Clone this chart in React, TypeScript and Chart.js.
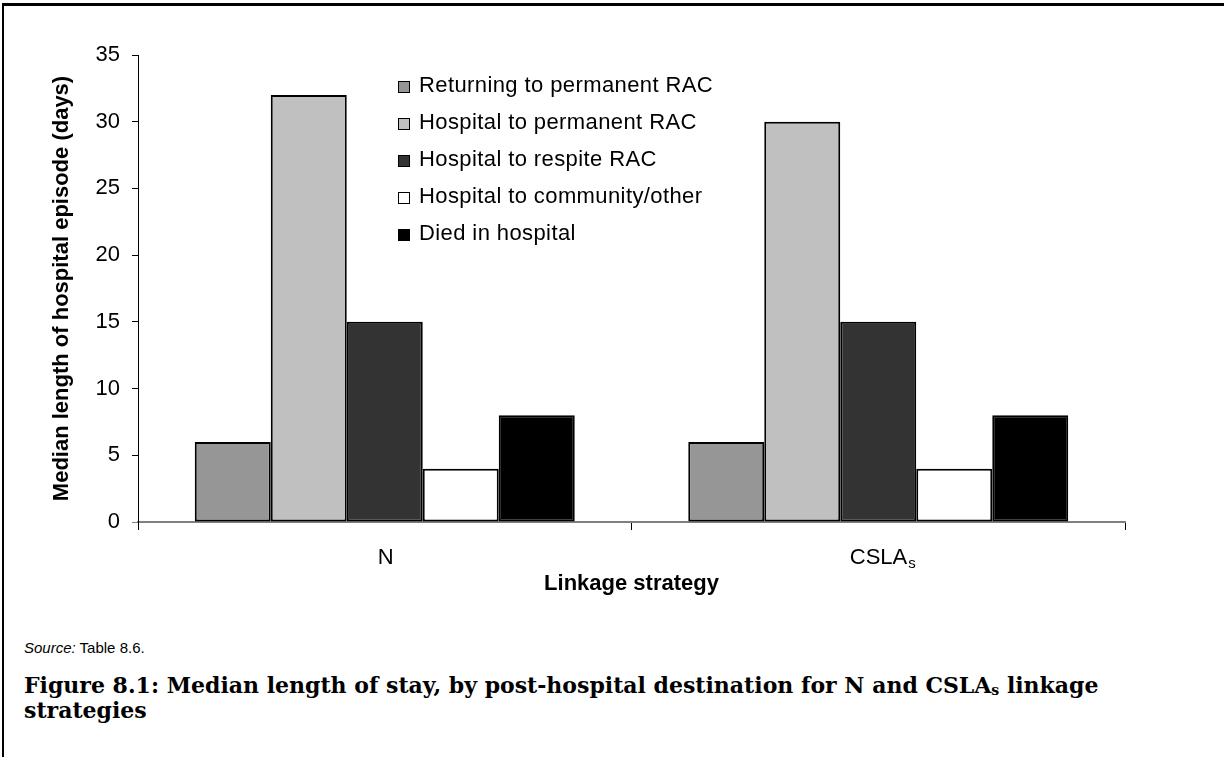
import React, { useEffect, useRef } from "react";
import { Chart, registerables } from "chart.js";

Chart.register(...registerables);

// ---- data ----
const categories = ["N", "CSLA_s"];
const seriesLabels = [
  "Returning to permanent RAC",
  "Hospital to permanent RAC",
  "Hospital to respite RAC",
  "Hospital to community/other",
  "Died in hospital",
];
const returningToPermanentRAC = [6, 6];
const hospitalToPermanentRAC = [32, 30];
const hospitalToRespiteRAC = [15, 15];
const hospitalToCommunityOther = [4, 4];
const diedInHospital = [8, 8];
const seriesColors = ["#969696", "#c0c0c0", "#333333", "#ffffff", "#000000"];
const yTickValues = [0, 5, 10, 15, 20, 25, 30, 35];
const yAxisTitle = "Median length of hospital episode (days)";
const xAxisTitle = "Linkage strategy";

const FONT = "'Liberation Sans', Arial, sans-serif";

const legendPlugin = {
  id: "insideLegend",
  afterDatasetsDraw(chart: any) {
    const ctx = chart.ctx;
    const x0 = 398;
    const y0 = 86;
    const step = 37;
    const box = 12;
    ctx.save();
    ctx.font = `22px ${FONT}`;
    ctx.textBaseline = "middle";
    ctx.textAlign = "left";
    try {
      (ctx as any).letterSpacing = "0.4px";
    } catch (e) {}
    chart.data.datasets.forEach((ds: any, i: number) => {
      const y = y0 + i * step;
      ctx.fillStyle = ds.backgroundColor;
      ctx.fillRect(x0, y - box / 2 + 1, box, box);
      ctx.strokeStyle = "#000";
      ctx.lineWidth = 1;
      ctx.strokeRect(x0 + 0.5, y - box / 2 + 1.5, box - 1, box - 1);
      ctx.fillStyle = "#000";
      ctx.fillText(ds.label, x0 + 21, y);
    });
    ctx.restore();
  },
};

const xLabelPlugin = {
  id: "xLabels",
  afterDraw(chart: any) {
    const scale = chart.scales.x;
    const ctx = chart.ctx;
    ctx.save();
    ctx.fillStyle = "#000";
    ctx.textBaseline = "alphabetic";
    ctx.textAlign = "left";
    const baseY = scale.top + 42;
    chart.data.labels.forEach((lab: string, i: number) => {
      const [main, sub] = String(lab).split("_");
      ctx.font = `22px ${FONT}`;
      const wMain = ctx.measureText(main).width;
      ctx.font = `15px ${FONT}`;
      const wSub = sub ? ctx.measureText(sub).width : 0;
      const cx = scale.getPixelForTick(i);
      const start = cx - (wMain + wSub) / 2 + (sub ? 4 : 1);
      ctx.font = `22px ${FONT}`;
      ctx.fillText(main, start, baseY);
      if (sub) {
        ctx.font = `15px ${FONT}`;
        ctx.fillText(sub, start + wMain + 1, baseY + 4);
      }
    });
    ctx.restore();
  },
};

export default function App() {
  const canvasRef = useRef<HTMLCanvasElement | null>(null);

  useEffect(() => {
    if (!canvasRef.current) return;
    const seriesValues = [
      returningToPermanentRAC,
      hospitalToPermanentRAC,
      hospitalToRespiteRAC,
      hospitalToCommunityOther,
      diedInHospital,
    ];
    const chart = new Chart(canvasRef.current, {
      type: "bar",
      data: {
        labels: categories,
        datasets: seriesValues.map((vals, i) => ({
          label: seriesLabels[i],
          data: vals,
          backgroundColor: seriesColors[i],
          borderColor: "#000000",
          borderWidth: 2,
          borderSkipped: false,
          categoryPercentage: 0.77,
          barPercentage: 1.0,
        })),
      },
      options: {
        responsive: false,
        animation: false,
        layout: { padding: { left: 0, top: 55, right: 99, bottom: 0 } },
        plugins: {
          legend: { display: false },
          tooltip: { enabled: false },
        },
        scales: {
          x: {
            offset: true,
            ticks: { display: false },
            grid: {
              offset: true,
              drawOnChartArea: false,
              drawTicks: true,
              tickLength: 8,
              color: "#000000",
              lineWidth: 1,
            },
            border: { display: true, color: "#808080", width: 2 },
            title: {
              display: true,
              text: xAxisTitle,
              color: "#000",
              font: { family: FONT, size: 22, weight: "bold" },
              padding: { top: 0, bottom: 18 },
            },
            afterFit: (scale: any) => {
              scale.height = 93;
            },
          },
          y: {
            min: 0,
            max: 35,
            afterBuildTicks: (scale: any) => {
              scale.ticks = yTickValues.map((v) => ({ value: v }));
            },
            ticks: {
              color: "#000",
              padding: 12,
              font: { family: FONT, size: 22 },
            },
            grid: {
              drawOnChartArea: false,
              drawTicks: true,
              tickLength: 6,
              color: (c: any) => (c.tick && c.tick.value === 0 ? "#808080" : "#000000"),
              lineWidth: 1,
            },
            border: { display: true, color: "#000000", width: 1 },
            title: {
              display: true,
              text: yAxisTitle,
              color: "#000",
              font: { family: FONT, size: 22, weight: "bold" },
              padding: { top: 49, bottom: 0 },
            },
            afterFit: (scale: any) => {
              scale.width = 138;
            },
          },
        },
      },
      plugins: [legendPlugin, xLabelPlugin],
    } as any);
    return () => chart.destroy();
  }, []);

  return (
    <div
      style={{
        position: "absolute",
        left: 0,
        top: 0,
        width: 1224,
        height: 757,
        background: "#fff",
        overflow: "hidden",
      }}
    >
      <div
        style={{
          position: "absolute",
          left: 2,
          top: 3,
          right: 0,
          bottom: 0,
          borderTop: "3px solid #000",
          borderLeft: "2px solid #000",
        }}
      />
      <canvas
        ref={canvasRef}
        width={1224}
        height={615}
        style={{ position: "absolute", left: 0, top: 0, width: 1224, height: 615 }}
      />
      <div
        style={{
          position: "absolute",
          left: 24,
          top: 639,
          fontFamily: FONT,
          fontSize: 15,
          color: "#000",
          whiteSpace: "nowrap",
        }}
      >
        <i>Source:</i> Table 8.6.
      </div>
      <div
        style={{
          position: "absolute",
          left: 24,
          top: 673,
          fontFamily: "'DejaVu Serif', serif",
          fontWeight: "bold",
          fontSize: 22,
          lineHeight: "25px",
          color: "#000",
          whiteSpace: "nowrap",
        }}
      >
        Figure 8.1: Median length of stay, by post-hospital destination for N and CSLA
        <sub style={{ fontSize: 14, verticalAlign: "-2px", lineHeight: 0 }}>s</sub> linkage
        <br />
        strategies
      </div>
    </div>
  );
}
